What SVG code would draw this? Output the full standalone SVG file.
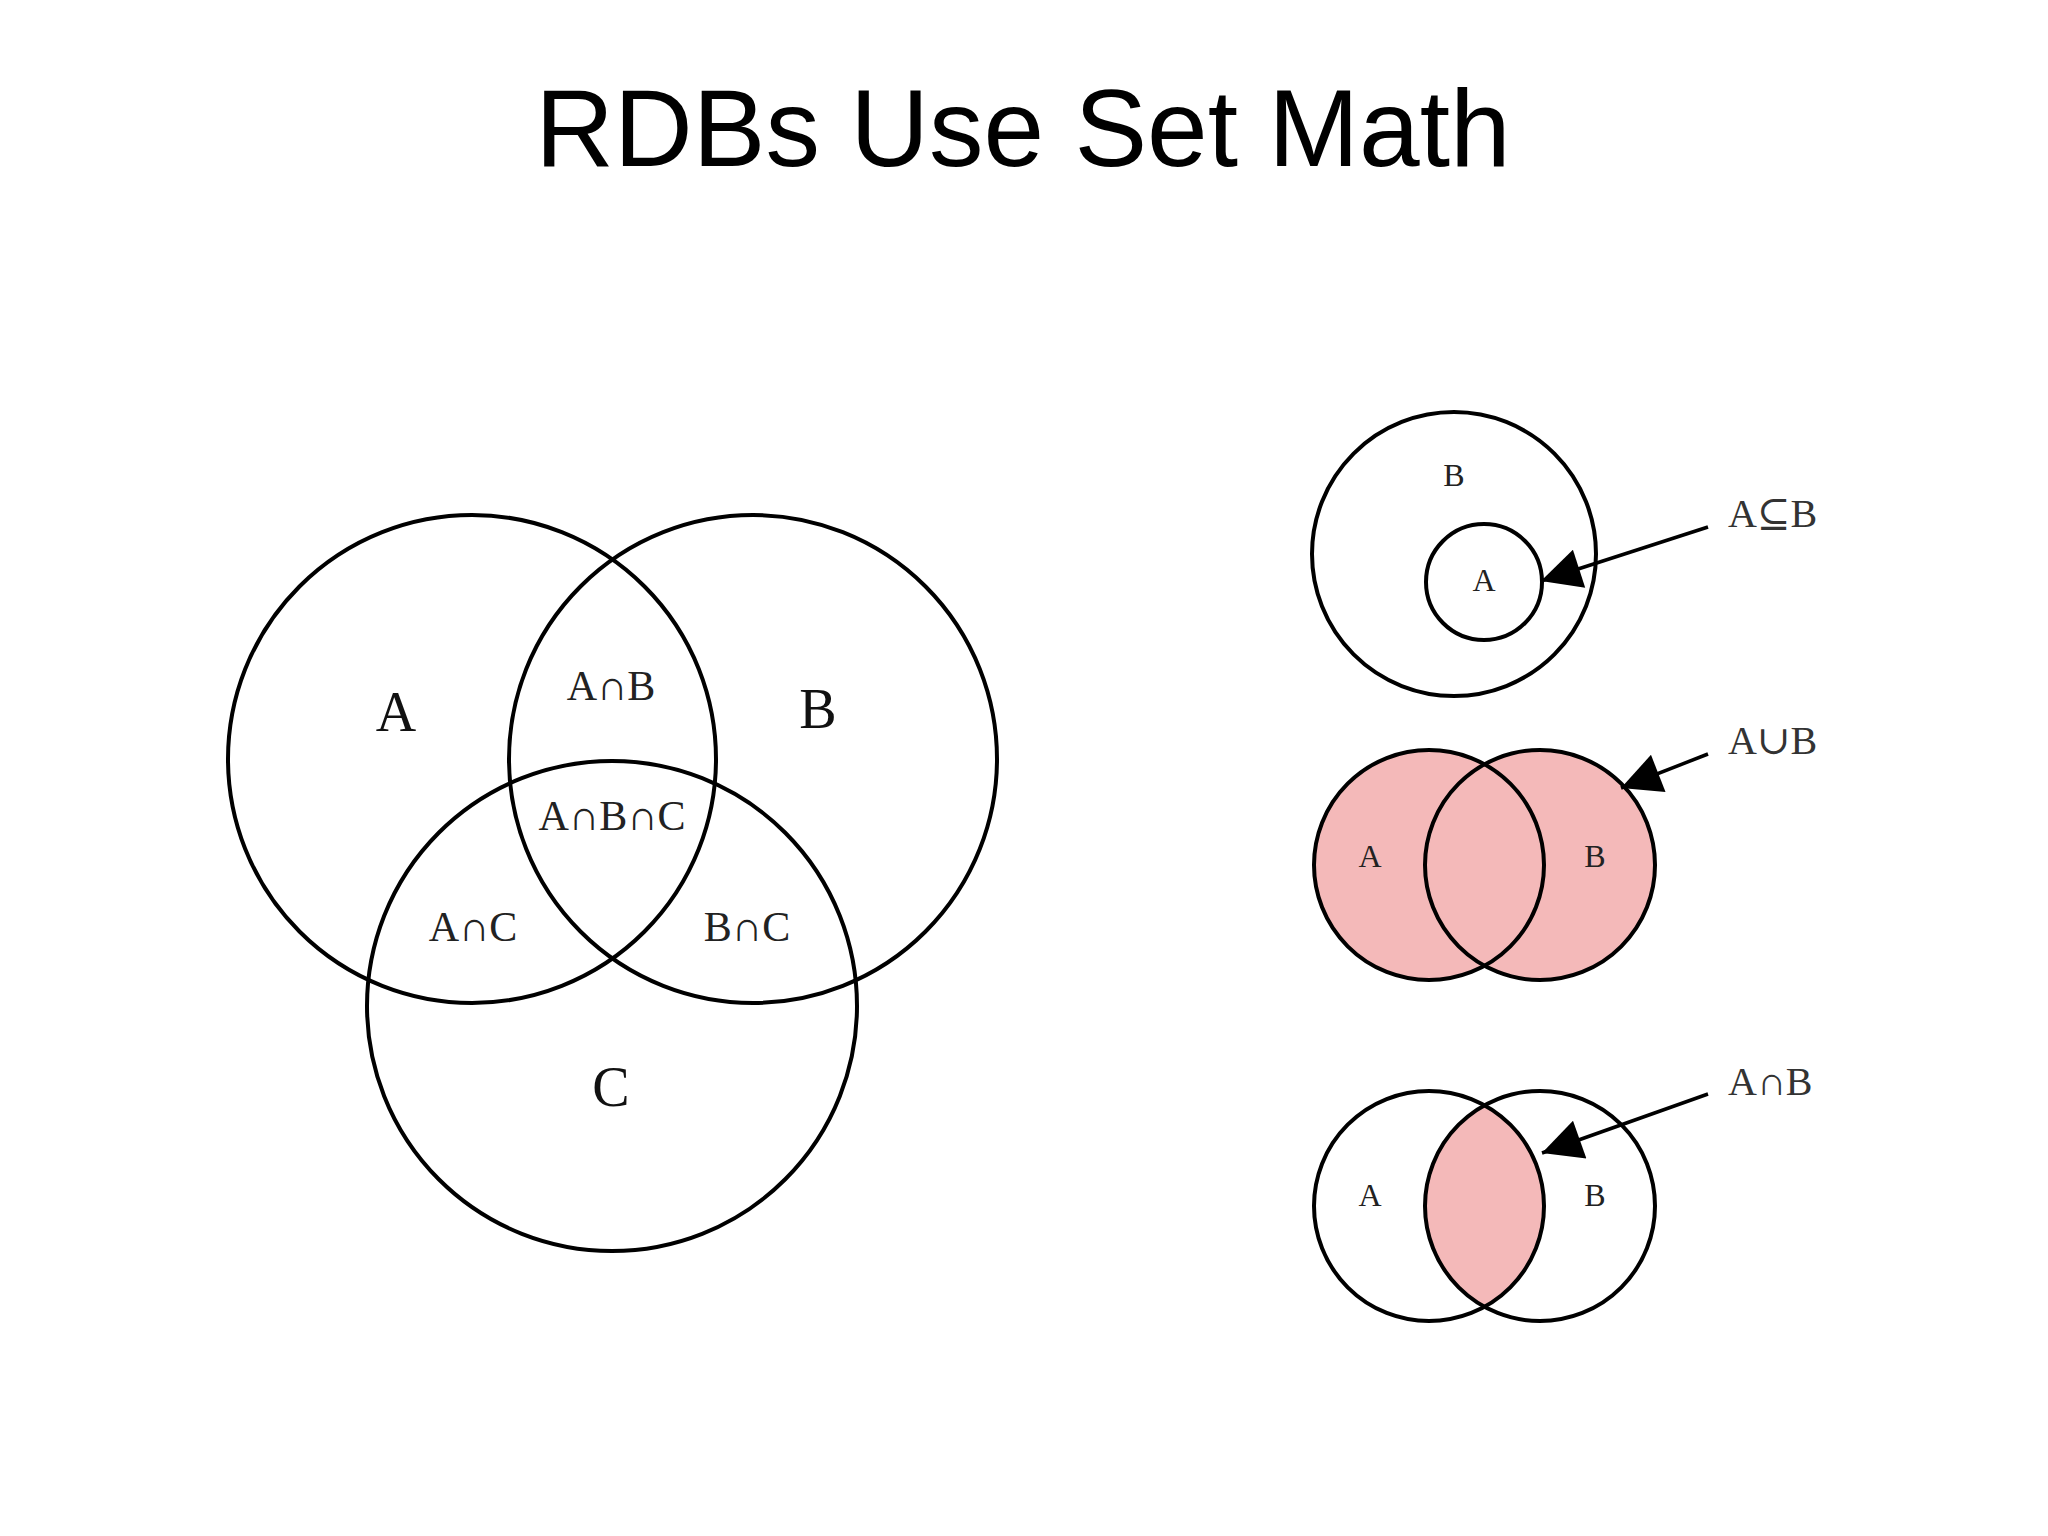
<svg xmlns="http://www.w3.org/2000/svg" width="2048" height="1536" viewBox="0 0 2048 1536">
<style>
.c{fill:none;stroke:#000;stroke-width:4}
.p{fill:#f4b9b9;stroke:none}
.big{font-family:"Liberation Serif","DejaVu Serif",serif;font-size:56px;fill:#111;text-anchor:middle}
.mid{font-family:"Liberation Serif","DejaVu Serif",serif;font-size:42px;fill:#222;text-anchor:middle}
.sm{font-family:"Liberation Serif","DejaVu Serif",serif;font-size:32px;fill:#222;text-anchor:middle}
.lb{font-family:"Liberation Serif","DejaVu Serif",serif;font-size:40px;fill:#333}
.ar{stroke:#000;stroke-width:3.5;fill:none}
</style>
<defs>
<marker id="ah" viewBox="0 0 10 10" refX="10" refY="5" markerWidth="44" markerHeight="40" markerUnits="userSpaceOnUse" orient="auto">
<path d="M0,0 L10,5 L0,10 z" fill="#000"/>
</marker>
<clipPath id="clipA"><circle cx="1429" cy="1206" r="115"/></clipPath>
</defs>
<rect width="2048" height="1536" fill="#fff"/>
<text x="1023" y="166" font-family="Liberation Sans, Arial, sans-serif" font-size="109" text-anchor="middle" fill="#000">RDBs Use Set Math</text>

<g id="venn3">
<circle class="c" cx="472" cy="759" r="244"/>
<circle class="c" cx="753" cy="759" r="244"/>
<circle class="c" cx="612" cy="1006" r="245"/>
<text class="big" x="396" y="731">A</text>
<text class="big" x="818" y="728">B</text>
<text class="big" x="611" y="1106">C</text>
<text class="mid" x="611" y="700">A∩B</text>
<text class="mid" x="612" y="830">A∩B∩C</text>
<text class="mid" x="473" y="941">A∩C</text>
<text class="mid" x="747" y="941">B∩C</text>
</g>

<g id="subset">
<circle class="c" cx="1454" cy="554" r="142"/>
<circle class="c" cx="1484" cy="582" r="58"/>
<text class="sm" x="1454" y="486">B</text>
<text class="sm" x="1484" y="591">A</text>
<text class="lb" x="1728" y="527">A⊆B</text>
</g>

<g id="union">
<circle class="p" cx="1429" cy="865" r="115"/>
<circle class="p" cx="1540" cy="865" r="115"/>
<circle class="c" cx="1429" cy="865" r="115"/>
<circle class="c" cx="1540" cy="865" r="115"/>
<text class="sm" x="1370" y="867">A</text>
<text class="sm" x="1595" y="867">B</text>
<text class="lb" x="1728" y="754">A∪B</text>
</g>

<g id="intersection">
<circle class="p" cx="1540" cy="1206" r="115" clip-path="url(#clipA)"/>
<circle class="c" cx="1429" cy="1206" r="115"/>
<circle class="c" cx="1540" cy="1206" r="115"/>
<text class="sm" x="1370" y="1206">A</text>
<text class="sm" x="1595" y="1206">B</text>
<text class="lb" x="1728" y="1095">A∩B</text>
</g>

<g id="connectors">
<line class="ar" x1="1708" y1="527" x2="1541" y2="581" marker-end="url(#ah)"/>
<line class="ar" x1="1708" y1="754" x2="1621" y2="788" marker-end="url(#ah)"/>
<line class="ar" x1="1708" y1="1094" x2="1542" y2="1153" marker-end="url(#ah)"/>
</g>
</svg>
